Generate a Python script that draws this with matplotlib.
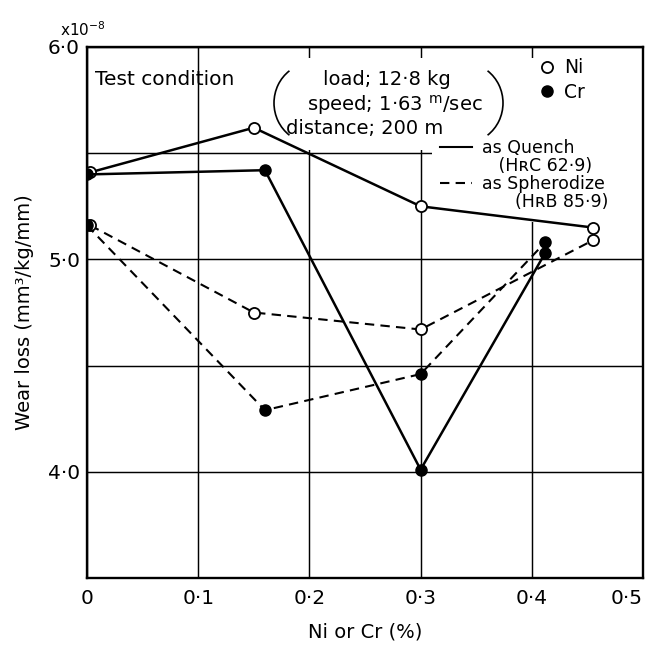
import matplotlib
matplotlib.use('Agg')
import matplotlib.pyplot as plt
from matplotlib.lines import Line2D
from matplotlib.patches import Rectangle, Arc
from matplotlib.ticker import FixedLocator

plt.rcParams['font.family'] = ['DejaVu Sans']

# ---- data (wear loss, x10^-8 mm^3/kg/mm) ----
x_ni = [0.003, 0.15, 0.30, 0.455]
ni_quench = [5.41, 5.62, 5.25, 5.15]
ni_spher = [5.16, 4.75, 4.67, 5.09]

x_cr = [0.0, 0.16, 0.30, 0.412]
cr_quench = [5.40, 5.42, 4.01, 5.03]
cr_spher = [5.16, 4.29, 4.46, 5.08]

xticks = [0.0, 0.1, 0.2, 0.3, 0.4, 0.5]
xticklabels = ['0', '0·1', '0·2', '0·3', '0·4', '0·5']
yticks = [4.0, 5.0, 6.0]
yticklabels = ['4·0', '5·0', '6·0']
yminor = [4.5, 5.5]

fig = plt.figure(figsize=(6.46, 6.46), dpi=100)
W = 646.0
ax = fig.add_axes([87 / W, 68 / W, 556 / W, 531 / W])

ax.set_xlim(0, 0.5)
ax.set_ylim(3.5, 6.0)
ax.set_xticks(xticks)
ax.set_xticklabels(xticklabels, fontsize=14.5)
ax.get_xticklabels()[-1].set_horizontalalignment('right')
ax.set_yticks(yticks)
ax.set_yticklabels(yticklabels, fontsize=14.5)
ax.yaxis.set_minor_locator(FixedLocator(yminor))
ax.tick_params(which='both', length=0)
ax.tick_params(axis='x', pad=8)
ax.tick_params(axis='y', pad=5)

ax.set_axisbelow(True)
ax.grid(True, which='both', color='black', linewidth=1.05)
for s in ax.spines.values():
    s.set_linewidth(1.7)

# white areas behind the annotation texts (gridlines hidden there)
ax.add_patch(Rectangle((0.3465, 0.806), 0.404, 0.173, transform=ax.transAxes,
                       facecolor='white', edgecolor='none', zorder=1))
ax.add_patch(Rectangle((0.621, 0.670), 0.379, 0.309, transform=ax.transAxes,
                       facecolor='white', edgecolor='none', zorder=1))

dash = (0, (4.5, 3))
ms = 8
ax.plot(x_ni, ni_quench, color='black', lw=1.8, marker='o', ms=ms,
        mfc='white', mec='black', mew=1.3, zorder=3)
ax.plot(x_ni, ni_spher, color='black', lw=1.5, ls=dash, marker='o', ms=ms,
        mfc='white', mec='black', mew=1.3, zorder=3)
ax.plot(x_cr, cr_quench, color='black', lw=1.8, marker='o', ms=ms,
        mfc='black', mec='black', zorder=4)
ax.plot(x_cr, cr_spher, color='black', lw=1.5, ls=dash, marker='o', ms=ms,
        mfc='black', mec='black', zorder=4)

# annotations
T = ax.transAxes
ax.text(0.014, 0.938, 'Test condition', fontsize=14.5, ha='left', va='center',
        zorder=5, transform=T)
ax.text(0.540, 0.938, 'load; 12·8 kg', fontsize=14, ha='center', va='center',
        zorder=5, transform=T)
ax.text(0.553, 0.891, 'speed; 1·63 $^{\\mathrm{m}}$/sec', fontsize=14, ha='center',
        va='center', zorder=5, transform=T)
ax.text(0.499, 0.847, 'distance; 200 m', fontsize=14, ha='center', va='center',
        zorder=5, transform=T)

fig.add_artist(Arc((312 / W, 1 - 103 / W), 76 / W, 80 / W, theta1=125, theta2=235,
                   transform=fig.transFigure, lw=1.2, color='black'))
fig.add_artist(Arc((465 / W, 1 - 103 / W), 76 / W, 80 / W, theta1=-55, theta2=55,
                   transform=fig.transFigure, lw=1.2, color='black'))

# legends
h_ni = Line2D([], [], ls='none', marker='o', ms=ms, mfc='white', mec='black', mew=1.3)
h_cr = Line2D([], [], ls='none', marker='o', ms=ms, mfc='black', mec='black')
leg1 = ax.legend([h_ni, h_cr], ['Ni', 'Cr'], loc='upper left',
                 bbox_to_anchor=(0.812, 0.979), frameon=False, fontsize=13.5,
                 handlelength=0.9, handletextpad=0.45, labelspacing=0.3,
                 borderpad=0, borderaxespad=0)
ax.add_artist(leg1)

h_q = Line2D([], [], color='black', lw=1.5)
h_s = Line2D([], [], color='black', lw=1.5, ls=dash)
h_blank = Line2D([], [], ls='none')
leg2 = ax.legend([h_q, h_blank, h_s, h_blank],
                 ['as Quench', '   (HʀC 62·9)', 'as Spherodize', '      (HʀB 85·9)'],
                 loc='upper left', bbox_to_anchor=(0.634, 0.827), frameon=False,
                 fontsize=12.5, handlelength=1.9, handletextpad=0.55,
                 labelspacing=0.0, borderpad=0, borderaxespad=0)

ax.set_xlabel('Ni or Cr (%)', fontsize=14, labelpad=10)
ax.set_ylabel('Wear loss (mm³/kg/mm)', fontsize=14, labelpad=10)

fig.text(60 / W, 1 - 30 / W, 'x10$^{-8}$', fontsize=11, ha='left', va='center')

fig.savefig('out.png', dpi=100)
